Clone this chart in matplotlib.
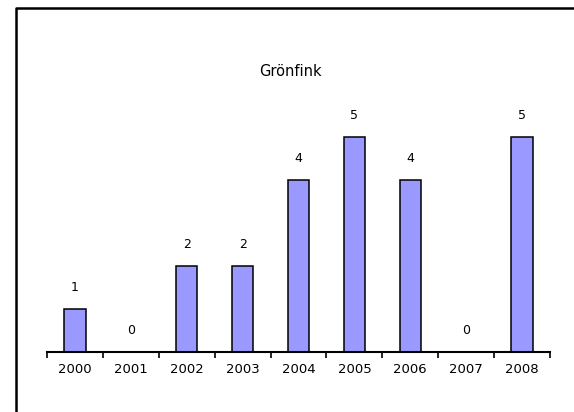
import matplotlib.pyplot as plt
import numpy as np
from matplotlib.lines import Line2D

years = ['2000', '2001', '2002', '2003', '2004', '2005', '2006', '2007', '2008']
counts = [1, 0, 2, 2, 4, 5, 4, 0, 5]

fig = plt.figure(figsize=(5.74, 4.12), dpi=100)
ax = fig.add_axes([47 / 574, 60 / 412, 503 / 574, 258 / 412])

x = np.arange(len(years))
bars = ax.bar(x, counts, width=0.38, color='#9999ff', edgecolor='black', linewidth=1.1)
ax.bar_label(bars, padding=11, fontsize=9, family='DejaVu Sans')

ax.set_xlim(-0.5, len(years) - 0.5)
ax.set_ylim(0, 6)
ax.set_xticks(x)
ax.set_xticklabels(years, fontsize=9.5, family='DejaVu Sans')
ax.tick_params(axis='x', which='major', length=0, pad=8)
ax.set_xticks(np.arange(len(years) + 1) - 0.5, minor=True)
ax.tick_params(axis='x', which='minor', length=4, width=1.2, direction='out')
ax.set_yticks([])
for s in ['left', 'right', 'top']:
    ax.spines[s].set_visible(False)
ax.spines['bottom'].set_linewidth(1.5)

fig.text(290 / 574, 1 - 72 / 412, 'Grönfink', ha='center', va='center', fontsize=10.5, family='DejaVu Sans')

# outer frame (left and top edges only visible)
fx, fy = 16 / 574, 1 - 8 / 412
fig.add_artist(Line2D([fx, fx, 1.0], [0.0, fy, fy], color='black', linewidth=1.8, transform=fig.transFigure))

fig.savefig('out.png', dpi=100)
